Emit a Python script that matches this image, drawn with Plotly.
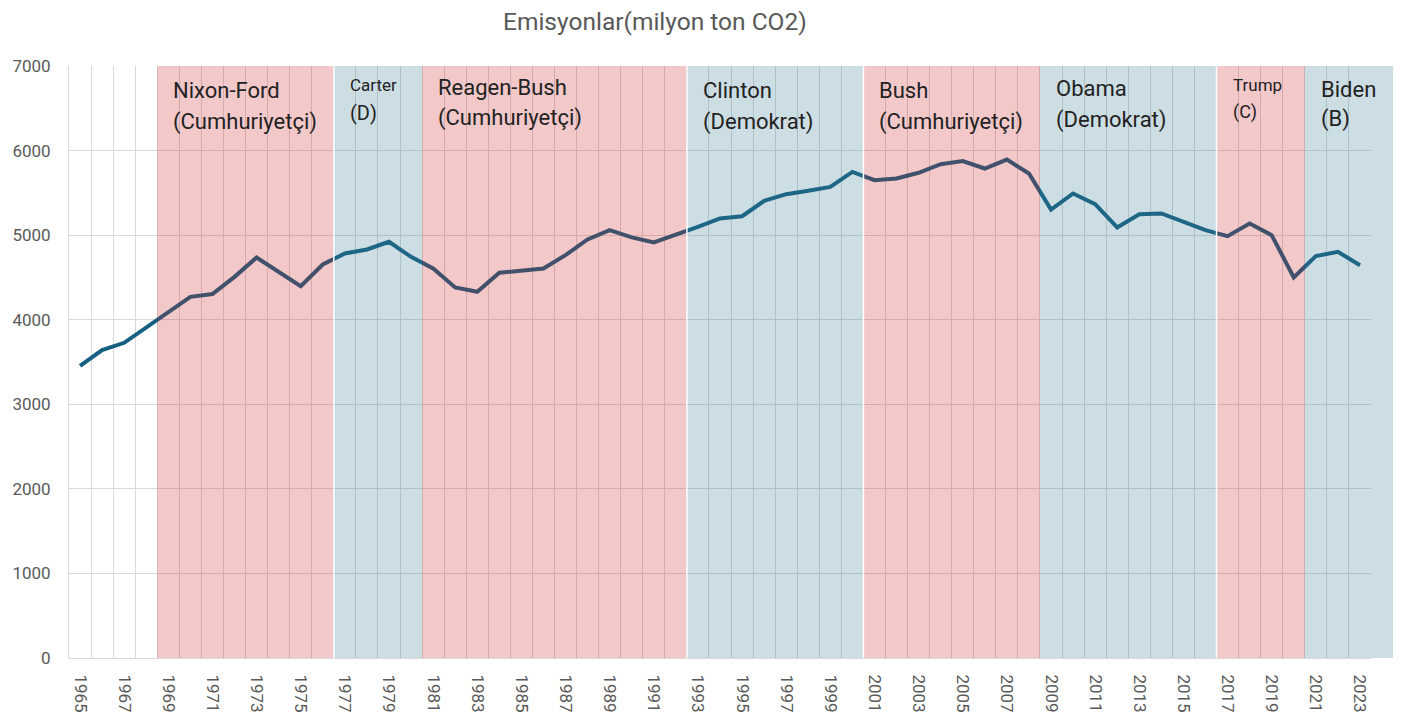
import plotly.graph_objects as go

# ---------------- data ----------------
years = list(range(1965, 2024))
emissions = [
    3455, 3641, 3727, 3909, 4094, 4271, 4303, 4507, 4736, 4567,
    4397, 4653, 4784, 4831, 4921, 4744, 4606, 4381, 4330, 4555,
    4578, 4606, 4764, 4949, 5059, 4973, 4914, 5000, 5098, 5197,
    5224, 5405, 5484, 5524, 5571, 5748, 5650, 5670, 5737, 5839,
    5875, 5788, 5894, 5729, 5303, 5493, 5366, 5091, 5248, 5256,
    5157, 5059, 4988, 5138, 5000, 4500, 4752, 4803, 4645,
]
tick_years = list(range(1965, 2024, 2))
y_ticks = [0, 1000, 2000, 3000, 4000, 5000, 6000, 7000]

# presidencies: first year, last year, party
period_start = [1969, 1977, 1981, 1993, 2001, 2009, 2017, 2021]
period_end = [1976, 1980, 1992, 2000, 2008, 2016, 2020, 2024]
period_party = ["R", "D", "R", "D", "R", "D", "R", "D"]
label_line1 = ["Nixon-Ford", "Carter", "Reagen-Bush", "Clinton", "Bush", "Obama", "Trump", "Biden"]
label_line2 = ["(Cumhuriyetçi)", "(D)", "(Cumhuriyetçi)", "(Demokrat)", "(Cumhuriyetçi)", "(Demokrat)", "(C)", "(B)"]
label1_size = [22, 17, 22, 22, 22, 22, 17, 22]
label2_size = [22, 20, 22, 22, 22, 22, 18, 22]
label1_offset = [24, 19, 21, 24, 24, 22, 19, 23]   # px below plot top
label2_offset = [56, 47, 52, 56, 56, 54, 46, 53]
separators = [1976.5, 1992.5, 2000.5, 2016.5]

TITLE = "Emisyonlar(milyon ton CO2)"
FONT = "Roboto, Arial, sans-serif"
GRAY = "#595959"
GRID = "#d9d9d9"

X_MIN, X_MAX = years[0] - 0.5, years[-1] + 0.5


def to_paper(x):
    return (x - X_MIN) / (X_MAX - X_MIN)


fig = go.Figure()
fig.add_trace(go.Scatter(
    x=years, y=emissions, mode="lines",
    line=dict(color="#156082", width=4),
    hoverinfo="x+y", showlegend=False,
))

fills = {"R": "rgba(204,36,40,0.25)", "D": "rgba(56,120,148,0.25)"}
shapes = []
for s, e, p in zip(period_start, period_end, period_party):
    shapes.append(dict(
        type="rect", xref="paper", yref="y",
        x0=to_paper(s - 0.5), x1=to_paper(e + 0.5),
        y0=y_ticks[0], y1=y_ticks[-1],
        fillcolor=fills[p], line=dict(width=0), layer="above",
    ))
for sx in separators:
    shapes.append(dict(
        type="line", xref="x", yref="y", x0=sx, x1=sx,
        y0=y_ticks[0], y1=y_ticks[-1],
        line=dict(color="white", width=1.5), layer="above",
    ))

annotations = [dict(
    text=TITLE, xref="paper", yref="paper", x=to_paper(1991.05), y=1,
    yshift=45, xanchor="center", yanchor="middle", showarrow=False,
    font=dict(family=FONT, size=24.5, color=GRAY),
)]
for s, t1, t2, s1, s2, o1, o2 in zip(period_start, label_line1, label_line2,
                                     label1_size, label2_size, label1_offset, label2_offset):
    annotations.append(dict(
        text=t1, xref="x", yref="y", x=s - 0.5, y=y_ticks[-1],
        xanchor="left", yanchor="middle", xshift=14, yshift=-o1,
        showarrow=False, font=dict(family=FONT, size=s1, color="#222222"),
    ))
    annotations.append(dict(
        text=t2, xref="x", yref="y", x=s - 0.5, y=y_ticks[-1],
        xanchor="left", yanchor="middle", xshift=14, yshift=-o2,
        showarrow=False, font=dict(family=FONT, size=s2, color="#222222"),
    ))

fig.update_layout(
    width=1397, height=711,
    margin=dict(l=61, r=34, t=58, b=61),
    paper_bgcolor="white", plot_bgcolor="white",
    font=dict(family=FONT, color=GRAY),
    shapes=shapes, annotations=annotations,
    hovermode="closest",
)
fig.update_xaxes(
    range=[X_MIN, X_MAX], tickmode="array", tickvals=tick_years,
    ticktext=[str(y) for y in tick_years], tickangle=90,
    tickfont=dict(family=FONT, size=17, color=GRAY),
    showgrid=False, zeroline=False, ticks="",
    showline=True, linecolor=GRID, linewidth=1,
    ticklabelstandoff=12, automargin=False,
    minor=dict(tick0=X_MIN, dtick=1, showgrid=True, gridcolor=GRID, gridwidth=1, ticks=""),
    mirror=False,
)
fig.update_yaxes(
    range=[y_ticks[0], y_ticks[-1]], tickmode="array", tickvals=y_ticks,
    tickfont=dict(family=FONT, size=17, color=GRAY),
    showgrid=True, gridcolor=GRID, gridwidth=1, zeroline=False, ticks="",
    showline=True, linecolor=GRID, linewidth=1,
    ticklabelstandoff=14, automargin=False,
)

fig.write_html("out.html")
